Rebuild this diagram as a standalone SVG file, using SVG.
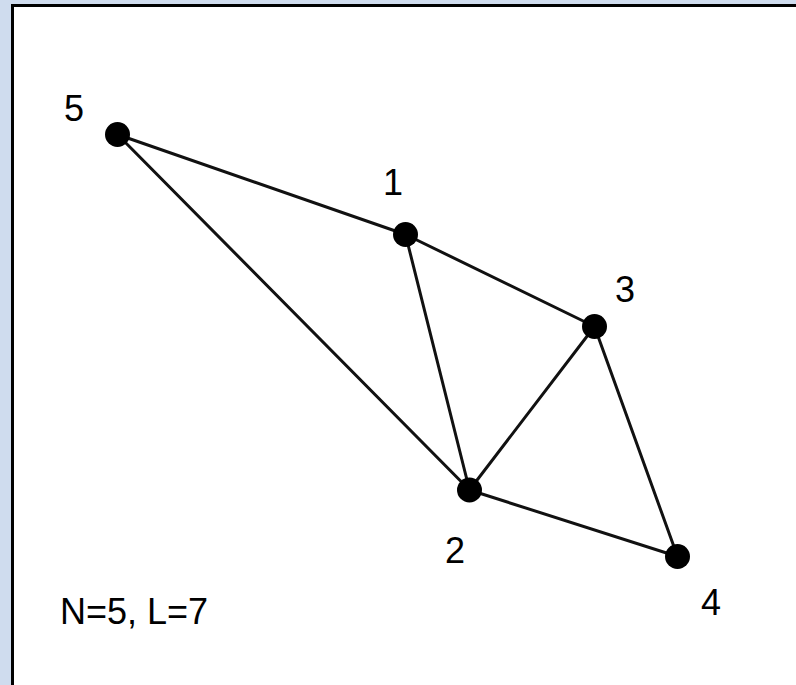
<svg xmlns="http://www.w3.org/2000/svg" width="796" height="685" viewBox="0 0 796 685">
<style>
.edge{stroke:#111;stroke-width:3;stroke-linecap:round}
.node{fill:#000}
.lbl{font-family:"Liberation Sans",Arial,sans-serif;font-size:36px;fill:#000;text-anchor:middle}
.cap{font-family:"Liberation Sans",Arial,sans-serif;font-size:36px;fill:#000}
</style>
<rect x="0" y="0" width="796" height="685" fill="#cfdcee"/>
<rect x="12.5" y="5.5" width="790" height="690" fill="#fff" stroke="#000" stroke-width="3"/>
<g id="connectors">
<line class="edge" x1="117.5" y1="134.5" x2="405.5" y2="234.5"/>
<line class="edge" x1="117.5" y1="134.5" x2="469.5" y2="490"/>
<line class="edge" x1="405.5" y1="234.5" x2="594.5" y2="326.5"/>
<line class="edge" x1="405.5" y1="234.5" x2="469.5" y2="490"/>
<line class="edge" x1="594.5" y1="326.5" x2="469.5" y2="490"/>
<line class="edge" x1="594.5" y1="326.5" x2="677.5" y2="556.5"/>
<line class="edge" x1="469.5" y1="490" x2="677.5" y2="556.5"/>
</g>
<g id="node5"><circle class="node" cx="117.5" cy="134.5" r="12.5"/><text class="lbl" x="74" y="121">5</text></g>
<g id="node1"><circle class="node" cx="405.5" cy="234.5" r="12.5"/><text class="lbl" x="393" y="195">1</text></g>
<g id="node3"><circle class="node" cx="594.5" cy="326.5" r="12.5"/><text class="lbl" x="625" y="302">3</text></g>
<g id="node2"><circle class="node" cx="469.5" cy="490" r="12.5"/><text class="lbl" x="455" y="563">2</text></g>
<g id="node4"><circle class="node" cx="677.5" cy="556.5" r="12.5"/><text class="lbl" x="711" y="615">4</text></g>
<text class="cap" x="60" y="624">N=5, L=7</text>
</svg>
